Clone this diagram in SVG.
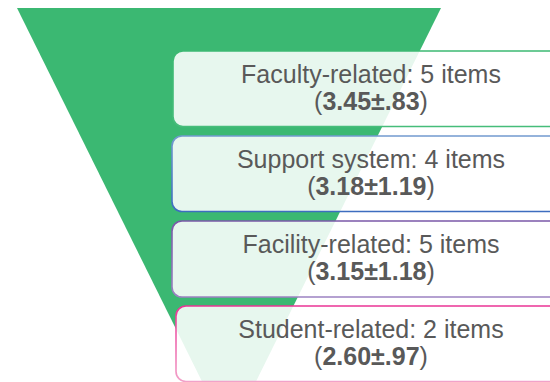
<svg xmlns="http://www.w3.org/2000/svg" width="550" height="382" viewBox="0 0 550 382">
  <defs>
    <linearGradient id="gGreen" x1="0" y1="0" x2="0" y2="1">
      <stop offset="0" stop-color="#3cb972"/>
      <stop offset="1" stop-color="#46bd7a"/>
    </linearGradient>
    <linearGradient id="gBlue" x1="0" y1="0" x2="0" y2="1">
      <stop offset="0" stop-color="#729acf"/>
      <stop offset="1" stop-color="#3d6dbf"/>
    </linearGradient>
    <linearGradient id="gPurple" x1="0" y1="0" x2="0" y2="1">
      <stop offset="0" stop-color="#7a58a8"/>
      <stop offset="1" stop-color="#9c82c2"/>
    </linearGradient>
    <linearGradient id="gPink" x1="0" y1="0" x2="0" y2="1">
      <stop offset="0" stop-color="#ea3495"/>
      <stop offset="1" stop-color="#f2a2c9"/>
    </linearGradient>
  </defs>
  <style>
    .card { fill: #ffffff; fill-opacity: 0.88; stroke-width: 1.6; }
    .label { font-family: "Liberation Sans", Arial, sans-serif; font-size: 25px; fill: #595959; text-anchor: middle; }
    .val { font-weight: bold; }
  </style>

  <!-- funnel -->
  <polygon id="funnel" points="17,8 441,8 229,436" fill="#3bb872"/>

  <g id="faculty">
    <rect class="card" x="173" y="51" width="400" height="75.5" rx="10" stroke="url(#gGreen)"/>
    <text class="label" x="371" y="83">Faculty-related: 5 items</text>
    <text class="label" x="371" y="110">(<tspan class="val">3.45±.83</tspan>)</text>
  </g>

  <g id="support">
    <rect class="card" x="172" y="136" width="400" height="75.5" rx="10" stroke="url(#gBlue)"/>
    <text class="label" x="371" y="168">Support system: 4 items</text>
    <text class="label" x="371" y="195">(<tspan class="val">3.18±1.19</tspan>)</text>
  </g>

  <g id="facility">
    <rect class="card" x="172" y="221" width="400" height="76" rx="10" stroke="url(#gPurple)"/>
    <text class="label" x="371" y="253">Facility-related: 5 items</text>
    <text class="label" x="371" y="280">(<tspan class="val">3.15±1.18</tspan>)</text>
  </g>

  <g id="student">
    <rect class="card" x="176" y="306" width="400" height="75.5" rx="10" stroke="url(#gPink)"/>
    <text class="label" x="371" y="338">Student-related: 2 items</text>
    <text class="label" x="371" y="365">(<tspan class="val">2.60±.97</tspan>)</text>
  </g>
</svg>
